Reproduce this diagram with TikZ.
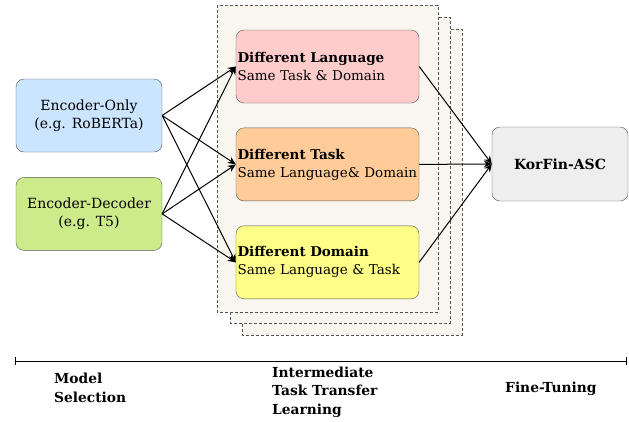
\documentclass[tikz,border=0pt]{standalone}
\usepackage{fontspec}
\setmainfont{DejaVu Serif}
\usetikzlibrary{arrows.meta,positioning}

\definecolor{onlyblue}{HTML}{CCE5FF}
\definecolor{decgreen}{HTML}{CDEB8B}
\definecolor{langpink}{HTML}{FFCCCC}
\definecolor{taskorange}{HTML}{FFCC99}
\definecolor{domyellow}{HTML}{FFFF88}
\definecolor{targetgray}{HTML}{EEEEEE}
\definecolor{panelbeige}{HTML}{F8F6EE}
\definecolor{edgegray}{HTML}{555555}

\begin{document}
\begin{tikzpicture}[x=1pt, y=-1pt,
  modelbox/.style={draw=edgegray, fill=#1, rounded corners=8pt,
    minimum width=146pt, minimum height=73pt, align=center,
    font=\fontsize{14}{18.5}\selectfont},
  taskbox/.style={draw=edgegray, fill=#1, rounded corners=8pt,
    minimum width=183pt, minimum height=73pt, text width=180pt,
    inner xsep=1.5pt, align=left, font=\fontsize{13.5}{18}\selectfont},
  stagelabel/.style={anchor=north west, inner sep=0pt, align=left,
    font=\bfseries\fontsize{13.8}{18.5}\selectfont},
  panel/.style={draw=edgegray, fill=panelbeige, dash pattern=on 3pt off 2pt},
  flow/.style={-{Stealth[length=8pt,width=7pt]}, line width=1pt}]

\useasboundingbox (0,0) rectangle (629,421);

%% stacked dashed panels, back to front
\draw[panel] (242,29) rectangle (462,335);
\draw[panel] (230,17) rectangle (450,323);
\draw[panel] (217,5) rectangle (438,312);

%% models
\node[modelbox=onlyblue] (enconly) at (89,115.5) {Encoder-Only\\(e.g. RoBERTa)};
\node[modelbox=decgreen, below=25pt of enconly] (encdec) {Encoder-Decoder\\(e.g. T5)};

%% intermediate tasks
\node[taskbox=langpink] (difflang) at (327.5,66.5)
  {\textbf{Different Language}\\Same Task \& Domain};
\node[taskbox=taskorange, below=24.5pt of difflang] (difftask)
  {\textbf{Different Task}\\Same Language\& Domain};
\node[taskbox=domyellow, below=24.5pt of difftask] (diffdom)
  {\textbf{Different Domain}\\Same Language \& Task};

%% target
\node[draw=edgegray, fill=targetgray, rounded corners=8pt,
  minimum width=136pt, minimum height=74pt,
  font=\bfseries\fontsize{14}{18}\selectfont] (korfin) at (560,164) {KorFin-ASC};

\foreach \src in {enconly, encdec}
  \foreach \dst in {difflang, difftask, diffdom}
    \draw[flow] (\src.east) -- (\dst.west);

\foreach \src in {difflang, difftask, diffdom}
  \draw[flow] (\src.east) -- (korfin.west);

%% timeline
\coordinate (tlstart) at (15,361);
\coordinate (tlend) at (627,361);
\draw[{Bar[width=8pt]}-{Bar[width=8pt]}, line width=1pt] (tlstart) -- (tlend);

\node[stagelabel] (selection) at (54,373) {Model\\Selection};
\node[stagelabel] (transfer) at (272,366.5) {Intermediate\\Task Transfer\\Learning};
\node[stagelabel] (finetune) at (505,382) {Fine-Tuning};

\end{tikzpicture}
\end{document}
